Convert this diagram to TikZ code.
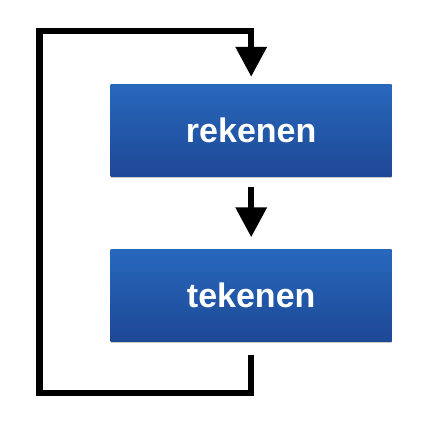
\documentclass[tikz,border=0pt]{standalone}
\usepackage{fontspec}
\setmainfont{Liberation Sans}
\usetikzlibrary{arrows.meta,shadows}
\definecolor{boxtop}{RGB}{40,104,188}
\definecolor{boxbot}{RGB}{30,72,150}
\tikzset{
  x=1pt,y=1pt,
  stepbox/.style={minimum width=281pt, minimum height=92pt, inner sep=0pt,
    top color=boxtop, bottom color=boxbot, draw=none,
    drop shadow={shadow xshift=0pt, shadow yshift=-1.5pt, opacity=0.35, fill=black!60},
    text=white, font=\fontsize{34}{40}\selectfont\bfseries},
  conn/.style={line width=6.5pt, line join=miter, draw=black},
  arr/.style={conn, -{Triangle[length=30pt,width=30pt]}}
}
\begin{document}
\begin{tikzpicture}
\useasboundingbox (0,0) rectangle (426,-426);
\node[stepbox] (r) at (251.2,-130) {rekenen};
\node[stepbox] (t) at (251.2,-295.5) {tekenen};
\coordinate (BL) at (39.5,-393);
\coordinate (TL) at (39.5,-31);
\draw[arr] ([yshift=-11pt]r.south) -- ([yshift=12pt]t.north);
\draw[arr] ([yshift=-13pt]t.south) |- (BL) -- (TL) -| ([yshift=7pt]r.north);
\end{tikzpicture}
\end{document}
